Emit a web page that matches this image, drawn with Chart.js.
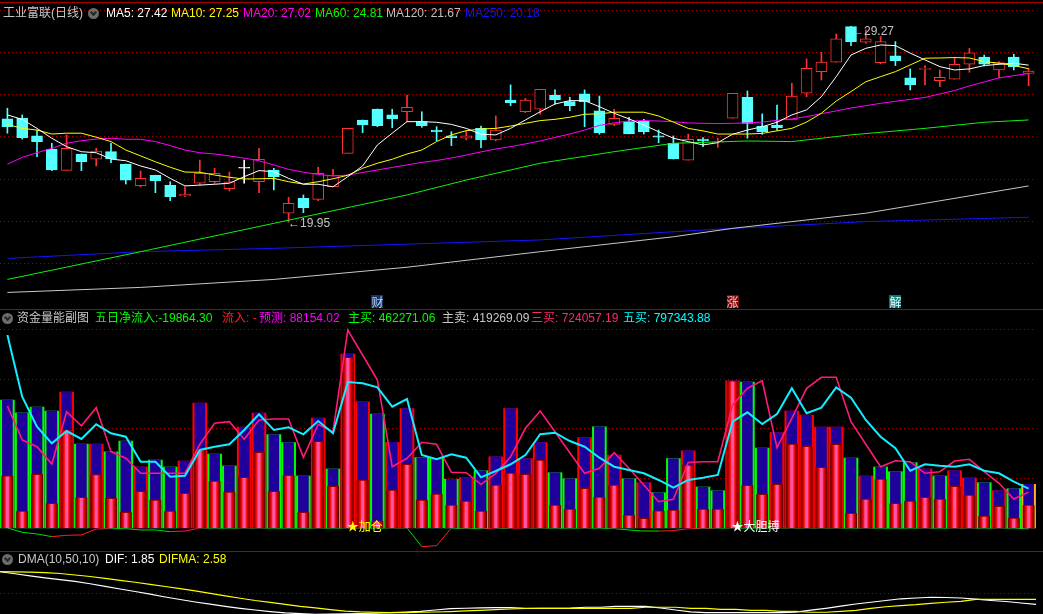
<!DOCTYPE html>
<html>
<head>
<meta charset="utf-8">
<script src="https://cdn.jsdelivr.net/npm/chart.js@4.4.1/dist/chart.umd.min.js"></script>
<style>
html, body { margin: 0; padding: 0; background: #000; width: 1043px; height: 614px; overflow: hidden; }
.pane { position: absolute; left: 0; width: 1043px; }
.sep { position: absolute; left: 0; width: 1043px; height: 1px; background: #a80000; z-index: 3; }
.hd { position: absolute; font: 12px "Liberation Sans", "Noto Sans CJK SC", sans-serif; line-height: 14px; white-space: nowrap; z-index: 4; }
.ico { position: absolute; width: 11px; height: 11px; border-radius: 50%; background: #6c6c6c; z-index: 4; }
.ico:after { content: ""; position: absolute; left: 3px; top: 2px; width: 3px; height: 3px; border-right: 2px solid #262626; border-bottom: 2px solid #262626; transform: rotate(45deg); }
.tag { position: absolute; font: 12px "Liberation Sans", "Noto Sans CJK SC", sans-serif; line-height: 13px; white-space: nowrap; z-index: 4; }
</style>
</head>
<body>

<div class="sep" style="top:2px"></div>
<div class="pane" style="top:0;height:308px"><canvas id="cTop"></canvas></div>
<div class="sep" style="top:309px"></div>
<div class="pane" style="top:310px;height:241px"><canvas id="cMid"></canvas></div>
<div class="sep" style="top:551px"></div>
<div class="pane" style="top:552px;height:68px"><canvas id="cBot"></canvas></div>

<div class="hd" style="left:3px;top:6px;color:#c8c8c8">工业富联(日线)</div>
<div class="ico" style="left:88px;top:8px"></div>
<div class="hd" style="left:106px;top:6px;color:#ffffff">MA5: 27.42</div>
<div class="hd" style="left:171px;top:6px;color:#ffff00">MA10: 27.25</div>
<div class="hd" style="left:243px;top:6px;color:#ff00ff">MA20: 27.02</div>
<div class="hd" style="left:315px;top:6px;color:#00ff00">MA60: 24.81</div>
<div class="hd" style="left:386px;top:6px;color:#c0c0c0">MA120: 21.67</div>
<div class="hd" style="left:465px;top:6px;color:#1414ff">MA250: 20.18</div>

<div class="ico" style="left:2px;top:313px"></div>
<div class="hd" style="left:17px;top:311px;color:#c8c8c8">资金量能副图</div>
<div class="hd" style="left:95px;top:311px;color:#00ff00">五日净流入:-19864.30</div>
<div class="hd" style="left:222px;top:311px;color:#ff2020">流入: -</div>
<div class="hd" style="left:259px;top:311px;color:#ff00ff">预测: 88154.02</div>
<div class="hd" style="left:348px;top:311px;color:#00ff00">主买: 462271.06</div>
<div class="hd" style="left:442px;top:311px;color:#c8c8c8">主卖: 419269.09</div>
<div class="hd" style="left:531px;top:311px;color:#ff2a6a">三买: 724057.19</div>
<div class="hd" style="left:623px;top:311px;color:#00ffff">五买: 797343.88</div>

<div class="ico" style="left:2px;top:554px"></div>
<div class="hd" style="left:18px;top:552px;color:#c8c8c8">DMA(10,50,10)</div>
<div class="hd" style="left:105px;top:552px;color:#ffffff">DIF: 1.85</div>
<div class="hd" style="left:159px;top:552px;color:#ffff00">DIFMA: 2.58</div>

<script>
// daily candles
var opens = [24.86,24.89,24.05,23.43,22.41,23.19,22.94,23.30,22.71,21.68, 22.18,21.70,21.20,21.80,21.87,21.54,22.51,21.87,22.43,20.37,
             21.08,21.03,21.63,23.22,24.81,25.33,25.05,25.20,24.73,24.33, 24.05,23.94,24.41,23.86,25.76,25.20,25.32,26.00,25.68,26.05,
             25.24,24.60,24.73,24.76,24.05,23.70,22.90,23.90,23.72,24.89, 25.89,24.52,24.57,24.81,26.08,27.11,27.56,29.25,28.51,27.54,
             27.86,26.82,27.22,26.68,26.75,27.46,27.80,27.19,27.80,27.03];
var highs = [25.37,25.05,24.33,23.70,24.10,23.19,23.46,23.70,22.71,22.38, 22.18,21.87,21.63,22.90,22.51,22.33,22.90,23.46,22.51,21.13,
             21.24,22.56,22.46,24.41,24.81,25.33,25.32,26.00,25.20,24.49, 24.25,24.30,24.52,25.00,26.48,25.84,26.27,26.24,25.89,26.24,
             25.95,25.32,24.94,24.84,24.33,24.05,24.14,23.97,23.94,26.08, 26.19,25.10,25.52,26.56,27.71,28.03,28.90,29.27,29.10,28.78,
             28.54,27.24,27.40,27.19,27.78,28.22,27.90,27.59,27.94,27.27];
var lows = [24.18,23.90,23.06,22.40,22.41,22.40,22.62,22.78,21.76,21.63, 21.35,20.97,21.16,21.71,21.80,21.43,21.80,21.35,21.48,19.95,
            20.40,20.97,21.63,23.22,24.20,24.49,24.44,24.73,24.46,23.82, 23.59,23.86,23.49,23.81,25.49,25.16,25.08,25.56,25.25,24.49,
            24.13,24.54,24.14,24.14,23.73,22.95,22.90,23.54,23.51,24.89, 23.94,24.13,24.33,24.81,25.92,26.71,27.56,28.35,28.46,27.48,
            27.40,26.24,26.48,26.40,26.75,27.08,27.38,26.82,27.19,26.44];
var closes = [24.49,23.97,23.78,22.43,23.46,22.82,23.33,22.95,21.95,22.03, 21.92,21.16,21.27,22.27,22.27,21.87,22.51,22.94,22.11,20.84,
              20.63,22.27,22.19,24.41,24.57,24.54,24.86,25.41,24.54,24.25, 23.97,24.05,23.86,24.33,25.63,25.76,26.27,25.76,25.49,25.68,
              24.20,24.89,24.14,24.25,23.99,22.95,23.89,23.82,23.76,26.08, 24.65,24.25,24.44,25.95,27.27,27.56,28.67,28.54,28.67,28.54,
              27.63,26.48,27.24,26.84,27.46,28.01,27.46,27.54,27.35,27.14];

var ma5 = [25.05,24.84,24.41,23.94,23.54,23.30,23.25,22.95,22.87,22.62, 22.43,22.03,21.67,21.71,21.75,21.80,22.11,22.40,22.35,22.03,
           21.75,21.75,21.63,22.11,22.62,23.62,24.18,24.73,24.73,24.70, 24.60,24.41,24.13,24.10,24.41,24.81,25.20,25.57,25.73,25.73,
           25.44,25.13,24.86,24.57,24.25,23.94,23.78,23.62,23.73,24.13, 24.33,24.49,24.70,25.05,25.29,25.92,26.87,27.90,28.22,28.38,
           28.35,27.99,27.67,27.35,27.19,27.24,27.40,27.46,27.51,27.42];
var ma10 = [24.60,24.41,24.33,24.14,24.18,24.18,23.99,23.78,23.38,23.10, 22.82,22.56,22.33,22.32,22.19,22.08,22.00,22.01,22.03,21.87,
            21.76,21.87,22.01,22.18,22.51,22.75,22.94,23.19,23.38,23.78, 24.10,24.30,24.38,24.41,24.52,24.65,24.78,24.84,24.94,25.08,
            25.10,25.18,25.18,25.18,25.00,24.71,24.41,24.29,24.14,24.14, 24.14,24.17,24.29,24.41,24.71,25.13,25.71,26.16,26.63,26.87,
            27.11,27.43,27.75,27.76,27.78,27.76,27.59,27.51,27.40,27.25];
var ma20 = [22.70,23.03,23.25,23.46,23.70,23.82,23.90,23.94,23.89,23.89, 23.78,23.59,23.38,23.25,23.19,23.10,22.99,22.87,22.67,22.46,
            22.32,22.22,22.14,22.19,22.31,22.43,22.55,22.67,22.79,22.88, 23.00,23.14,23.29,23.43,23.54,23.67,23.81,23.98,24.14,24.33,
            24.55,24.67,24.76,24.78,24.76,24.73,24.67,24.65,24.64,24.65, 24.67,24.71,24.79,24.86,24.97,25.11,25.24,25.38,25.49,25.60,
            25.70,25.79,25.88,26.05,26.21,26.43,26.62,26.81,26.92,27.02];
// long averages read at a few candles only: [day index, value]
var ma60Pts = [[0,17.22],[9,18.54],[18,19.89],[27,21.24],[31,21.95],[36,22.75],[41,23.30],[45,23.70],[50,23.81],[53,23.78],[57,24.10],[62,24.41],[66,24.70],[69,24.81]];
var ma120Pts = [[0,16.60],[9,16.84],[18,17.22],[27,17.80],[36,18.54],[45,19.25],[49,19.65],[58,20.37],[69,21.67]];
var ma250Pts = [[0,18.22],[9,18.54],[18,18.70],[27,18.90],[36,19.10],[45,19.49],[49,19.65],[58,19.97],[69,20.18]];
var priceGrid = [18, 20, 22, 24, 26, 28, 30];

// money flow pane (thousands)
var totalVol = [2586,2329,2444,2363,2747,1697,1697,1541,1757,1232, 1374,1232,1353,2525,1495,1252,2040,2323,1885,1723,
                1050,2222,1192,3515,2551,2303,1731,2410,1420,1408, 984,1016,1157,1440,2410,1400,1723,1117,996,1824,
                2046,1475,996,915,713,1400,1561,828,753,2975, 2949,1616,1925,2363,2283,2040,2040,1414,1050,1232,
                1137,1319,1192,1050,1157,1010,915,753,794,882];
var buyVol = [1056,343,1085,499,1980,620,1077,600,317,741, 566,343,701,1576,949,727,1024,1529,741,1065,
              317,1751,842,3448,970,141,768,1287,566,687, 465,545,343,869,1111,1085,1374,465,384,802,
              626,869,263,196,349,364,1273,384,384,2975, 863,681,883,1697,1650,1226,1691,297,586,990,
              499,545,620,586,842,667,242,438,202,462];
var barSides = ('ggggrgrggr' + 'ggrrggrrgg' + 'grgrrgrrgg' + 'grgrrrrggr' + 'grgrggrggr' + 'ggrrrrrgrg' + 'ggrgrrgrgy').split('');
var buy3 = [2464,1778,1642,1293,2349,2066,2430,1541,1408,1105, 1105,1105,1105,1691,2115,2147,1792,2182,2202,2202,
            1428,2095,1945,4000,3495,2990,1238,1408,1731,1691, 1125,1117,883,1105,1440,2014,2363,1945,1521,1105,
            1206,1521,1206,869,531,580,1323,1339,1339,2485, 2822,2975,1622,2216,2822,3044,3044,2147,1691,1238,
            1359,1339,1105,1137,1353,1388,1137,903,586,724];
var buy5 = [3899,2652,2046,1711,1959,1798,2095,1913,1844,1339, 1339,1036,1056,1576,1642,1691,1980,2297,1980,2034,
            1893,2161,1913,2949,2923,2842,2450,2606,1475,1388, 1489,1420,1024,1151,1287,1475,1893,1925,1757,1642,
            1420,1238,1172,1105,970,814,970,1016,1071,2147, 2337,2101,2303,2822,2317,2430,2842,2632,2182,1844,
            1610,1157,1287,1258,1238,1287,1157,1105,935,797];
var netFlow5 = [0,-87,-121,-175,-148,-141,-20,-13,-13,-40, -40,-74,-61,0,0,0,0,0,0,0,
                0,0,0,0,0,0,0,0,-377,-357, 0,-13,-13,-5,-5,0,0,0,0,0,
                0,-13,-40,-61,-61,-54,-13,-7,0,0, 0,0,0,0,0,0,0,0,0,0,
                0,0,0,0,0,0,0,0,0,-20];
var flowGrid = [1000, 2000, 3000, 4000];

// DMA pane
var dif = [6.61,6.31,6.01,5.72,5.46,5.20,4.85,4.48,4.09,3.72, 3.33,2.92,2.55,2.19,1.87,1.55,1.27,1.02,0.79,0.60,
           0.48,0.39,0.41,0.45,0.51,0.57,0.64,0.72,0.83,1.02, 1.21,1.28,1.34,1.36,1.36,1.27,1.27,1.27,1.31,1.42,
           1.42,1.56,1.56,1.56,1.31,1.02,0.76,0.63,0.63,0.63, 0.63,0.63,0.63,0.70,0.99,1.27,1.58,1.90,2.15,2.41,
           2.66,2.77,2.88,2.85,2.77,2.60,2.41,2.26,2.04,1.85];
var difma = [6.61,6.58,6.54,6.48,6.35,6.13,5.91,5.65,5.36,5.07, 4.76,4.45,4.13,3.81,3.46,3.09,2.74,2.41,2.13,1.84,
             1.56,1.33,1.09,0.86,0.74,0.69,0.64,0.64,0.69,0.73, 0.79,0.88,0.98,1.07,1.17,1.24,1.26,1.27,1.27,1.27,
             1.27,1.27,1.27,1.42,1.42,1.42,1.27,1.27,1.12,1.12, 0.98,0.98,0.83,0.83,0.69,0.69,0.83,0.98,1.27,1.50,
             1.65,1.80,2.00,2.15,2.29,2.58,2.58,2.58,2.58,2.58];
var dmaGrid = [3.46];

// event marks
var lowMark = { day: 19, text: '\u219019.95', value: 19.95 };
var highMark = { day: 57, text: '\u219029.27', value: 29.27 };
var newsMarks = [
    { day: 25, text: '财', bg: '#16365f', fg: '#b8d0ff' },
    { day: 49, text: '涨', bg: '#7a0808', fg: '#ffc0c0' },
    { day: 60, text: '解', bg: '#087474', fg: '#e8ffff' }
];
var signalMarks = [
    { day: 23, text: '\u2605加仓', color: '#ffff00' },
    { day: 49, text: '\u2605大胆搏', color: '#ffffff' }
];

var days = closes.map(function(c, i){ return 'D' + (i + 1); });

var RED = '#ff3232', CYAN = '#54ffff', GRID = '#a00000';
var CYL_W = 12;

function candleColor(i){
    if (closes[i] > opens[i]) return RED;
    if (closes[i] < opens[i]) return CYAN;
    return '#ffffff';
}

function fromPoints(pts){
    var arr = days.map(function(){ return null; });
    pts.forEach(function(p){ arr[p[0]] = p[1]; });
    return arr;
}

function maLine(label, data, color, order){
    return {
        type: 'line', label: label, data: data, borderColor: color, borderWidth: 1,
        pointRadius: 0, tension: 0, spanGaps: true, order: order
    };
}

function fixedTicks(list){
    return function(scale){
        scale.ticks = list.map(function(v){ return { value: v }; });
    };
}

function baseOptions(yMin, yMax, gridList, rightPad){
    return {
        responsive: true,
        maintainAspectRatio: false,
        animation: false,
        events: [],
        layout: { padding: { left: 0, right: rightPad, top: 0, bottom: 0 } },
        plugins: { legend: { display: false }, tooltip: { enabled: false } },
        scales: {
            x: { display: false },
            y: {
                min: yMin, max: yMax,
                afterBuildTicks: fixedTicks(gridList),
                ticks: { display: false },
                grid: { color: GRID, lineWidth: 1, drawTicks: false },
                border: { display: false, dash: [1, 3] }
            }
        }
    };
}

function cylinderFill(c){
    if (c.type !== 'data' || !c.chart.chartArea) return '#d00000';
    var x = c.chart.scales.x.getPixelForValue(c.dataIndex);
    var g = c.chart.ctx.createLinearGradient(x - CYL_W / 2, 0, x + CYL_W / 2, 0);
    g.addColorStop(0, '#560000');
    g.addColorStop(0.18, '#b80000');
    g.addColorStop(0.32, '#ff1212');
    g.addColorStop(0.42, '#ff55a8');
    g.addColorStop(0.58, '#ff55a8');
    g.addColorStop(0.68, '#ff1212');
    g.addColorStop(0.82, '#b80000');
    g.addColorStop(1, '#560000');
    return g;
}

// ---- price pane ----
var topChart = new Chart(document.getElementById('cTop'), {
    type: 'bar',
    data: {
        labels: days,
        datasets: [
            {
                label: 'wick',
                data: lows.map(function(l, i){ return [l, highs[i]]; }),
                grouped: false, barThickness: 1, order: 9,
                backgroundColor: function(c){ return candleColor(c.dataIndex); }
            },
            {
                label: 'body',
                data: opens.map(function(o, i){ return [o, closes[i]]; }),
                grouped: false, barThickness: 11, minBarLength: 1, order: 8,
                borderWidth: 1, borderSkipped: false,
                backgroundColor: function(c){
                    var i = c.dataIndex;
                    return closes[i] > opens[i] ? '#000000' : candleColor(i);
                },
                borderColor: function(c){ return candleColor(c.dataIndex); }
            },
            maLine('MA250', fromPoints(ma250Pts), '#1414ff', 6),
            maLine('MA120', fromPoints(ma120Pts), '#c8c8c8', 5),
            maLine('MA60', fromPoints(ma60Pts), '#10f010', 4),
            maLine('MA20', ma20, '#ff00ff', 3),
            maLine('MA10', ma10, '#ffff00', 2),
            maLine('MA5', ma5, '#ffffff', 1)
        ]
    },
    options: baseOptions(15.86, 30.52, priceGrid, 7)
});

// ---- money flow pane ----
var midChart = new Chart(document.getElementById('cMid'), {
    type: 'bar',
    data: {
        labels: days,
        datasets: [
            {
                type: 'line', label: '五日净流入', data: netFlow5, borderWidth: 1, pointRadius: 0,
                borderColor: '#00dd00', order: 9,
                segment: {
                    borderColor: function(s){ return s.p1.parsed.y > s.p0.parsed.y ? '#ff2020' : '#00dd00'; }
                }
            },
            {
                label: 'total', data: totalVol, grouped: false, barThickness: 14, order: 7,
                backgroundColor: function(c){
                    var s = barSides[c.dataIndex];
                    return s === 'r' ? '#ff0000' : (s === 'g' ? '#00ff00' : '#ffb020');
                }
            },
            {
                label: 'totalCore', data: totalVol, grouped: false, barThickness: 10, order: 6,
                backgroundColor: '#20009a'
            },
            {
                label: '主买', data: buyVol, grouped: false, barThickness: CYL_W, order: 5,
                backgroundColor: cylinderFill,
                borderColor: '#8a0000', borderWidth: { top: 1, left: 0, right: 0, bottom: 0 }
            },
            {
                type: 'line', label: '三买', data: buy3, borderColor: '#ff1a78', borderWidth: 1.6,
                pointRadius: 0, tension: 0, order: 1
            },
            {
                type: 'line', label: '五买', data: buy5, borderColor: '#10eeff', borderWidth: 2,
                pointRadius: 0, tension: 0, order: 0
            }
        ]
    },
    options: baseOptions(-465, 4404, flowGrid, 7)
});

// ---- DMA pane ----
var botChart = new Chart(document.getElementById('cBot'), {
    type: 'line',
    data: {
        labels: days,
        datasets: [
            { label: 'DIF', data: dif, borderColor: '#ffffff', borderWidth: 1.2, pointRadius: 0, tension: 0, order: 1 },
            { label: 'DIFMA', data: difma, borderColor: '#ffff00', borderWidth: 1.2, pointRadius: 0, tension: 0, order: 0 }
        ]
    },
    options: baseOptions(-0.438, 9.489, dmaGrid, 7)
});

// ---- text marks placed through the chart scales ----
function addTag(paneTop, left, top, text, css){
    var d = document.createElement('div');
    d.className = 'tag';
    d.textContent = text;
    d.style.left = left + 'px';
    d.style.top = (paneTop + top) + 'px';
    for (var k in css) d.style[k] = css[k];
    document.body.appendChild(d);
}

(function(){
    var xs = topChart.scales.x, ys = topChart.scales.y;
    addTag(0, xs.getPixelForValue(lowMark.day) - 0.5, ys.getPixelForValue(lowMark.value) - 5, lowMark.text, { color: '#c4c4c4' });
    addTag(0, xs.getPixelForValue(highMark.day) + 1, ys.getPixelForValue(highMark.value) - 1.5, highMark.text, { color: '#c4c4c4' });
    newsMarks.forEach(function(m){
        addTag(0, xs.getPixelForValue(m.day) - 6, topChart.chartArea.bottom - 13, m.text, {
            color: m.fg, background: m.bg, width: '12px', height: '13px', textAlign: 'center',
            fontFamily: '"Noto Sans CJK SC", sans-serif'
        });
    });

    var mx = midChart.scales.x, my = midChart.scales.y;
    signalMarks.forEach(function(m){
        addTag(310, mx.getPixelForValue(m.day) - 1, my.getPixelForValue(0) - 6.5, m.text, { color: m.color });
    });
})();
</script>
</body>
</html>
